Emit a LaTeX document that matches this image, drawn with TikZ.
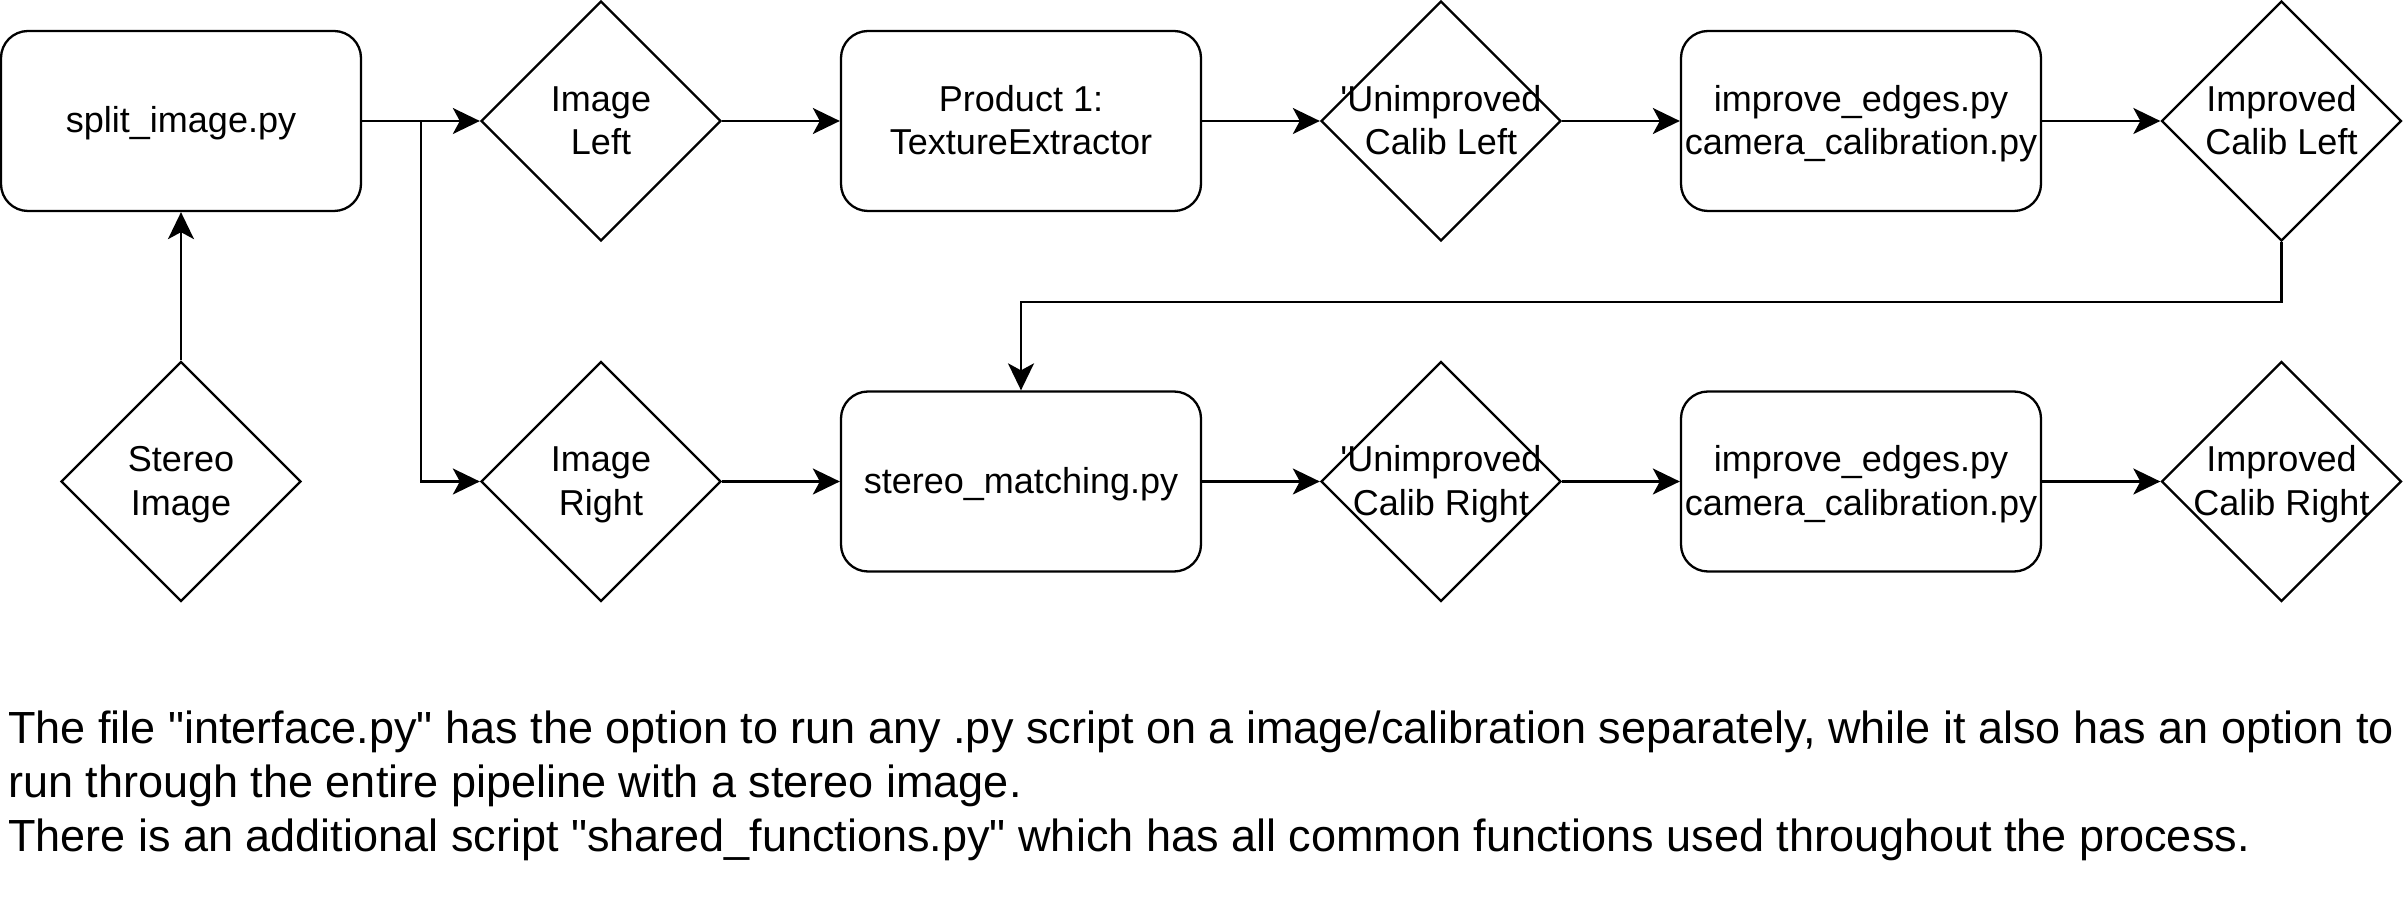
\documentclass[tikz,border=0pt]{standalone}
\usepackage{fontspec}
\setmainfont{Liberation Sans}
\usetikzlibrary{shapes.geometric,arrows.meta}

\tikzset{
  script/.style={draw, rounded corners=0.27cm, minimum width=3.6cm, minimum height=1.8cm,
    align=center, inner sep=0pt, text height=0.35cm, text depth=0.11cm},
  script2/.style={script, text height=0.802cm, text depth=0.13cm},
  data/.style={draw, diamond, minimum width=2.4cm, minimum height=2.4cm, inner sep=0pt,
    text height=0.802cm, text depth=0.13cm},
  flow/.style={-{Stealth[length=0.27cm, width=0.26cm, inset=0.07cm]}},
}
\newcommand{\twoline}[2]{\makebox[0pt]{\begin{tabular}[b]{@{}c@{}}#1\\#2\end{tabular}}}

\begin{document}
\begin{tikzpicture}[x=1cm, y=1cm, line width=0.023cm,
    font=\fontsize{10.25}{12.29}\selectfont]
      \def\dx{4.2cm};
      \def\xo{1.81cm};
      \def\yt{7.82cm};
      \def\yb{4.215cm};
      \useasboundingbox (0,0) rectangle (24.03,9.03);
      %
      \node[script] (split) at (\xo, \yt) {split\_image.py};   % input
      \node[data] (stereo) at (\xo, \yb) {\twoline{Stereo}{Image}};
      %
      \node[data] (imgl) at (\xo+\dx, \yt) {\twoline{Image}{Left}};   % left branch
      \node[script2] (texture) at (\xo+2*\dx, \yt) {Product 1:\\TextureExtractor};
      \node[data] (rawl) at (\xo+3*\dx, \yt) {\twoline{\textquotesingle Unimproved}{Calib Left}};
      \node[script2] (calibl) at (\xo+4*\dx, \yt) {improve\_edges.py\\camera\_calibration.py};
      \node[data] (goodl) at (\xo+5*\dx+0.005cm, \yt) {\twoline{Improved}{Calib Left}};
      %
      \node[data] (imgr) at (\xo+\dx, \yb) {\twoline{Image}{Right}};   % right branch
      \node[script] (matching) at (\xo+2*\dx, \yb) {stereo\_matching.py};
      \node[data] (rawr) at (\xo+3*\dx, \yb) {\twoline{\textquotesingle Unimproved}{Calib Right}};
      \node[script2] (calibr) at (\xo+4*\dx, \yb) {improve\_edges.py\\camera\_calibration.py};
      \node[data] (goodr) at (\xo+5*\dx+0.005cm, \yb) {\twoline{Improved}{Calib Right}};
      %
      \coordinate (fork) at (4.21, \yt);
      \draw[flow] (stereo) -- (split);
      \draw[flow] (split) -- (imgl);
      \draw[flow] (split.east) -- (fork) |- (imgr.west);
      \draw[flow] (imgl) -- (texture);
      \draw[flow] (texture) -- (rawl);
      \draw[flow] (rawl) -- (calibl);
      \draw[flow] (calibl) -- (goodl);
      \draw[flow] (goodl.south) -- ++(0,-0.6) -| (matching.north);
      \draw[flow] (imgr) -- (matching);
      \draw[flow] (matching) -- (rawr);
      \draw[flow] (rawr) -- (calibr);
      \draw[flow] (calibr) -- (goodr);
      %
      \node[anchor=base west, align=left, inner sep=0pt,
        font=\fontsize{12.81}{15.37}\selectfont] (note) at (0.07, 0.51)
        {The file \textquotedbl interface.py\textquotedbl{} has the option to run any .py script on a image/calibration separately, while it also has an option to\\
         run through the entire pipeline with a stereo image.\\
         There is an additional script \textquotedbl shared\_functions.py\textquotedbl{} which has all common functions used throughout the process.};
      %
    \end{tikzpicture}
\end{document}
